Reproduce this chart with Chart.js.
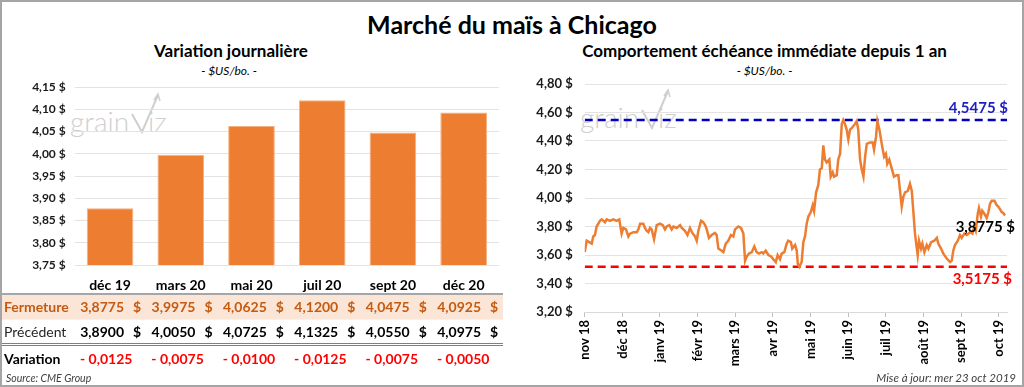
<!DOCTYPE html>
<html lang="fr">
<head>
<meta charset="utf-8">
<title>Marché du maïs à Chicago</title>
<script src="https://cdn.jsdelivr.net/npm/chart.js@4.4.1/dist/chart.umd.min.js"></script>
<style>
  html, body { margin: 0; padding: 0; background: #fff; }
  body { width: 1024px; height: 387px; position: relative; overflow: hidden; font-family: Lato, Carlito, Calibri, sans-serif; color: #000; }
  .abs { position: absolute; }
  #frame { left: 0; top: 0; width: 1024px; height: 387px; box-sizing: border-box; border: 2px solid #a5a5a5; z-index: 10; pointer-events: none; }
  #mainTitle { left: 0; width: 1024px; top: 9px; text-align: center; font-weight: bold; font-size: 25px; line-height: 30px; }
  .chartTitle { font-weight: bold; font-size: 17px; line-height: 20px; text-align: center; }
  .chartSub { font-style: italic; font-size: 12px; line-height: 14px; text-align: center; }
  canvas { position: absolute; }
  #dayTable { left: 0; top: 293px; border-collapse: collapse; table-layout: fixed; font-size: 14px; }
  #dayTable td { padding: 0; white-space: nowrap; }
  #dayTable td.lbl { width: 75px; padding-left: 4px; box-sizing: border-box; }
  #dayTable td.val { width: 71.4px; text-align: center; font-weight: bold; }
  #dayTable .cur { margin-left: 9px; }
  #rowClose { height: 25px; background: #fbe5d6; color: #c55a11; font-weight: bold; border-top: 2px solid #a6a6a6; }
  #rowPrev { height: 25px; border-top: 1px solid #f2f2f2; border-bottom: 3px double #808080; }
  #rowPrev td.lbl { color: #262626; }
  #rowChange { height: 28px; }
  #rowChange td.lbl { font-weight: bold; }
  #rowChange td.val { color: #ff0000; padding-right: 9px; box-sizing: border-box; }
  .note { font-style: italic; font-size: 10.5px; color: #404040; }
</style>
</head>
<body>
<div id="frame" class="abs"></div>
<div id="mainTitle" class="abs">Marché du maïs à Chicago</div>

<div class="abs chartTitle" style="left:0; width:462px; top:41px;">Variation journalière</div>
<div class="abs chartSub" style="left:0; width:458px; top:64px;">- $US/bo. -</div>
<div class="abs chartTitle" style="left:512px; width:505px; top:41px;">Comportement échéance immédiate depuis 1 an</div>
<div class="abs chartSub" style="left:512px; width:505px; top:64px;">- $US/bo. -</div>

<svg class="abs" style="left:70px; top:92px;" width="110" height="46">
  <text x="0" y="40" font-size="28" font-family="Lato, sans-serif" font-weight="300" fill="#cfcfcf">grain</text>
  <polyline points="62,22 72,40 88,3" stroke="#cfcfcf" stroke-width="2" fill="none"/>
  <polyline points="84,8 88,2 90,9" stroke="#cfcfcf" stroke-width="1.5" fill="none"/>
  <text x="78" y="40" font-size="28" font-family="Lato, sans-serif" font-weight="300" fill="#cfcfcf">iz</text>
</svg>
<svg class="abs" style="left:580px; top:88px;" width="110" height="46">
  <text x="0" y="40" font-size="28" font-family="Lato, sans-serif" font-weight="300" fill="#cfcfcf">grain</text>
  <polyline points="62,22 72,40 88,3" stroke="#cfcfcf" stroke-width="2" fill="none"/>
  <polyline points="84,8 88,2 90,9" stroke="#cfcfcf" stroke-width="1.5" fill="none"/>
  <text x="78" y="40" font-size="28" font-family="Lato, sans-serif" font-weight="300" fill="#cfcfcf">iz</text>
</svg>

<canvas id="dailyChart" width="512" height="270" style="left:0; top:30px;"></canvas>
<canvas id="yearChart" width="512" height="357" style="left:512px; top:30px;"></canvas>

<table id="dayTable" class="abs">
  <tr id="rowClose"><td class="lbl">Fermeture</td></tr>
  <tr id="rowPrev"><td class="lbl">Précédent</td></tr>
  <tr id="rowChange"><td class="lbl">Variation</td></tr>
</table>
<div class="abs note" style="left:6px; top:372px;">Source: CME Group</div>
<div class="abs note" style="right:8px; top:371px; font-size:11.5px;">Mise à jour: mer 23 oct 2019</div>

<script>
// contrats et prix ($US/boisseau)
const contracts = ['déc 19', 'mars 20', 'mai 20', 'juil 20', 'sept 20', 'déc 20'];
const closing = [3.8775, 3.9975, 4.0625, 4.1200, 4.0475, 4.0925];
const previous = [3.8900, 4.0050, 4.0725, 4.1325, 4.0550, 4.0975];
const change = [-0.0125, -0.0075, -0.0100, -0.0125, -0.0075, -0.0050];

// échéance immédiate, 1 an (jour de bourse, cours de fermeture)
const monthLabels = ['nov 18', 'déc 18', 'janv 19', 'févr 19', 'mars 19', 'avr 19', 'mai 19', 'juin 19', 'juil 19', 'août 19', 'sept 19', 'oct 19'];
const tradingDay = [
  0, 1.2, 2.7, 4.2, 5.1, 6.1, 7.1, 9.1, 10.1, 12.1, 13.1, 15.1, 17, 19, 20.6, 21.4, 22, 23, 24.6, 26,
  27, 29, 31, 32, 33, 34.9, 35.9, 36.9, 37.9, 38.9, 39.9, 41.3, 42.9, 44.8, 46.5, 47.8, 48.8, 50.4, 51.8, 52.8,
  54.8, 56.8, 57.8, 59.7, 61.2, 62.7, 64.1, 65.7, 66.7, 67.7, 69.3, 70.6, 71.7, 72.7, 74, 75.6, 77.6, 78.6, 79.6, 81.6,
  82.6, 84, 85.5, 87.1, 88.5, 89.5, 91.5, 93.1, 94.5, 95.5, 96.5, 97.9, 99.5, 101, 102.4, 103.8, 105.4, 106.4, 107.8, 109.4,
  111, 112.3, 113.8, 114.9, 116.3, 117.3, 118.9, 120.3, 121.2, 122.8, 123.6, 125.3, 126.3, 126.9, 127.8, 129.2, 130.2, 131.2, 132.2, 133.2,
  134.6, 135.8, 136.6, 137.8, 139.1, 140.1, 141.2, 142.1, 143.1, 144.1, 145.7, 146.5, 147.7, 148.5, 150.1, 151, 152.1, 153.1, 154, 155,
  156, 157, 158, 159, 161, 162, 162.9, 164, 165, 166, 167, 168, 169.9, 171.5, 172.3, 173.5, 174.3, 175.5, 176.9, 178.3,
  179.4, 180.2, 181.4, 182.8, 184.2, 185.8, 186.8, 187.8, 188.8, 189.8, 190.8, 192.4, 193.7, 194.8, 195.7, 196.7, 198.3, 199.1, 200.3, 201.1,
  202.3, 203.7, 204.7, 206.3, 208.2, 209.7, 210.6, 212.2, 213.6, 215.6, 217.6, 218.6, 219.5, 220.5, 222.2, 223.5, 224.5, 226.1, 227.5, 229.5,
  230.9, 232, 232.9, 234.1, 234.8, 236, 236.8, 238, 239.4, 240.4, 241.4, 242.4, 244, 245.4, 246.3, 247.4, 248.4, 249.3, 250.3
];
const closePrice = [
  3.62, 3.70, 3.69, 3.68, 3.73, 3.74, 3.80, 3.84, 3.85, 3.83, 3.85, 3.84, 3.85, 3.84, 3.85, 3.79, 3.75, 3.79, 3.78, 3.73,
  3.75, 3.76, 3.76, 3.78, 3.82, 3.82, 3.79, 3.77, 3.76, 3.79, 3.78, 3.71, 3.81, 3.82, 3.81, 3.78, 3.80, 3.81, 3.78, 3.80,
  3.79, 3.81, 3.79, 3.77, 3.74, 3.79, 3.755, 3.73, 3.70, 3.77, 3.84, 3.83, 3.81, 3.78, 3.72, 3.74, 3.755, 3.74, 3.645, 3.63,
  3.62, 3.68, 3.70, 3.74, 3.73, 3.78, 3.80, 3.79, 3.75, 3.56, 3.59, 3.61, 3.62, 3.66, 3.62, 3.61, 3.62, 3.61, 3.63, 3.60,
  3.59, 3.57, 3.55, 3.60, 3.57, 3.61, 3.62, 3.68, 3.70, 3.69, 3.645, 3.67, 3.63, 3.54, 3.5175, 3.55, 3.69, 3.73, 3.82, 3.87,
  3.90, 3.95, 3.91, 4.04, 4.09, 4.20, 4.21, 4.37, 4.27, 4.25, 4.27, 4.15, 4.18, 4.15, 4.16, 4.27, 4.31, 4.52, 4.5475, 4.52,
  4.48, 4.41, 4.48, 4.49, 4.52, 4.54, 4.48, 4.27, 4.20, 4.15, 4.29, 4.38, 4.39, 4.39, 4.34, 4.43, 4.54, 4.48, 4.38, 4.29,
  4.31, 4.24, 4.27, 4.21, 4.15, 4.16, 4.16, 4.05, 3.94, 4.01, 4.04, 4.05, 4.10, 4.05, 3.91, 3.75, 3.60, 3.70, 3.645, 3.68,
  3.62, 3.67, 3.645, 3.69, 3.70, 3.72, 3.68, 3.645, 3.61, 3.575, 3.55, 3.56, 3.63, 3.67, 3.70, 3.74, 3.72, 3.75, 3.74, 3.76,
  3.75, 3.80, 3.77, 3.89, 3.93, 3.87, 3.91, 3.89, 3.86, 3.90, 3.96, 3.98, 3.98, 3.95, 3.94, 3.92, 3.90, 3.895, 3.8775
];
const monthStep = 22.42;
const lastDay = 251.5;

const fmt2 = v => v.toFixed(2).replace('.', ',') + ' $';
const fmt4 = v => v.toFixed(4).replace('.', ',') + ' $';

Chart.defaults.font.family = 'Lato, Carlito, Calibri, sans-serif';
Chart.defaults.color = '#1a1a1a';

// table sous le graphique de gauche
const rows = { rowClose: closing, rowPrev: previous };
Object.entries(rows).forEach(([id, values]) => {
    const tr = document.getElementById(id);
    values.forEach(v => {
        const td = document.createElement('td');
        td.className = 'val';
        td.innerHTML = `<span>${v.toFixed(4).replace('.', ',')}</span><span class="cur">$</span>`;
        tr.appendChild(td);
    });
});
change.forEach(v => {
    const td = document.createElement('td');
    td.className = 'val';
    td.textContent = (v < 0 ? '- ' : '+ ') + Math.abs(v).toFixed(4).replace('.', ',');
    document.getElementById('rowChange').appendChild(td);
});

// graphique de gauche
new Chart(document.getElementById('dailyChart'), {
    type: 'bar',
    data: {
        labels: contracts,
        datasets: [{
            data: closing,
            backgroundColor: '#ed7d31',
            borderColor: '#f4b183',
            borderWidth: 1,
            categoryPercentage: 1,
            barPercentage: 0.66
        }]
    },
    options: {
        responsive: false,
        animation: false,
        devicePixelRatio: 1,
        layout: { padding: { top: 57, right: 13, left: 0, bottom: 0 } },
        plugins: { legend: { display: false }, tooltip: { enabled: false } },
        scales: {
            x: {
                grid: { display: false },
                border: { display: false },
                ticks: { font: { size: 14, weight: 'bold' }, color: '#000', padding: 4 },
                afterFit: s => { s.height = 35; }
            },
            y: {
                min: 3.75,
                max: 4.15,
                grid: { color: '#e3e3e3', drawTicks: false },
                border: { display: false },
                ticks: { stepSize: 0.05, font: { size: 12, weight: 'bold' }, padding: 9, callback: v => fmt2(v) },
                afterFit: s => { s.width = 74.7; }
            }
        }
    }
});

// étiquettes des lignes de référence
const yearHigh = Math.max(...closePrice);
const yearLow = Math.min(...closePrice);
const lastClose = closePrice[closePrice.length - 1];

const refLabels = {
    id: 'refLabels',
    afterDatasetsDraw(chart) {
        const { ctx, chartArea, scales: { y } } = chart;
        ctx.save();
        ctx.font = 'bold 15px Lato, Carlito, Calibri, sans-serif';
        ctx.textAlign = 'right';
        ctx.textBaseline = 'middle';
        ctx.fillStyle = '#1f1fbf';
        ctx.fillText(fmt4(yearHigh), chartArea.right + 1, y.getPixelForValue(yearHigh) - 12);
        ctx.fillStyle = '#ff0000';
        ctx.fillText(fmt4(yearLow), chartArea.right + 5, y.getPixelForValue(yearLow) + 12);
        ctx.fillStyle = '#000';
        ctx.fillText(fmt4(lastClose), chartArea.right + 8, y.getPixelForValue(lastClose) + 12);
        ctx.restore();
    }
};

// graphique de droite
new Chart(document.getElementById('yearChart'), {
    type: 'line',
    data: {
        datasets: [
            {
                data: tradingDay.map((d, i) => ({ x: d, y: closePrice[i] })),
                borderColor: '#ed7d31',
                borderWidth: 2.5,
                pointRadius: 0,
                order: 1
            },
            {
                data: [{ x: 0, y: yearHigh }, { x: lastDay, y: yearHigh }],
                borderColor: '#0000c0',
                borderWidth: 2.5,
                borderDash: [8, 5],
                pointRadius: 0,
                order: 2
            },
            {
                data: [{ x: 0, y: yearLow }, { x: lastDay, y: yearLow }],
                borderColor: '#ff0000',
                borderWidth: 2.5,
                borderDash: [8, 5],
                pointRadius: 0,
                order: 2
            }
        ]
    },
    options: {
        responsive: false,
        animation: false,
        devicePixelRatio: 1,
        layout: { padding: { top: 54, right: 17, left: 0, bottom: 0 } },
        plugins: { legend: { display: false }, tooltip: { enabled: false } },
        scales: {
            x: {
                type: 'linear',
                min: 0,
                max: lastDay,
                grid: { drawOnChartArea: false, drawTicks: true, tickLength: 5, color: '#bfbfbf' },
                border: { color: '#d9d9d9' },
                afterBuildTicks: s => { s.ticks = monthLabels.map((m, i) => ({ value: i * monthStep })); },
                ticks: {
                    autoSkip: false,
                    minRotation: 90,
                    maxRotation: 90,
                    padding: 3,
                    font: { size: 13, weight: 'bold' },
                    color: '#000',
                    callback: (v, i) => monthLabels[i]
                },
                afterFit: s => { s.height = 75; }
            },
            y: {
                min: 3.2,
                max: 4.8,
                grid: { color: '#e3e3e3', drawTicks: false },
                border: { display: false },
                ticks: { stepSize: 0.2, font: { size: 13, weight: 'bold' }, padding: 12, callback: v => fmt2(v) },
                afterFit: s => { s.width = 72.7; }
            }
        }
    },
    plugins: [refLabels]
});
</script>
</body>
</html>
